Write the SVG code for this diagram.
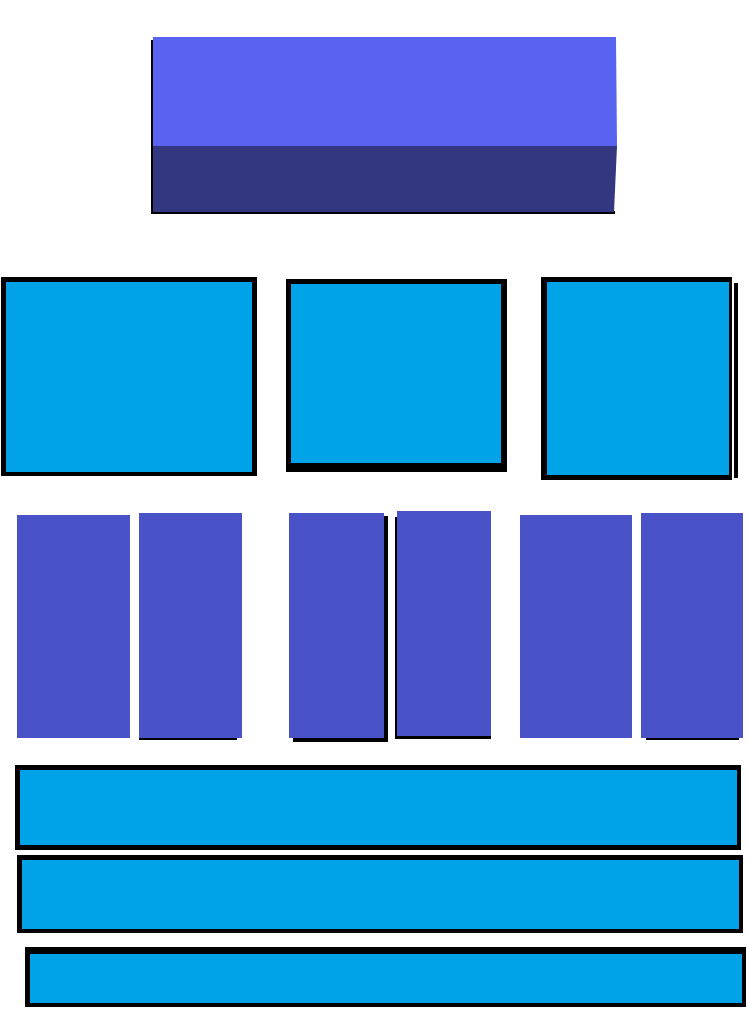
<svg xmlns="http://www.w3.org/2000/svg" width="748" height="1023" viewBox="0 0 748 1023">
  <style>
    .blk { fill: #000000; }
    .cyan { fill: #00A2E8; }
    .col { fill: #4A52C8; }
    .top { fill: #5963F2; }
    .front { fill: #33377F; }
  </style>
  <rect width="748" height="1023" fill="#FFFFFF"/>

  <g id="top-block">
    <rect class="blk" x="151" y="40" width="3" height="174"/>
    <rect class="blk" x="151" y="211" width="464" height="3"/>
    <polygon class="top" points="153,37 616,37 617,146 153,146"/>
    <polygon class="front" points="153,146 617,146 614,212 153,212"/>
  </g>

  <g id="box-left">
    <rect class="blk" x="1" y="277" width="256" height="199"/>
    <rect class="cyan" x="6" y="282" width="246" height="190"/>
  </g>
  <g id="box-middle">
    <rect class="blk" x="286" y="279" width="221" height="193"/>
    <rect class="cyan" x="291" y="284" width="210" height="179"/>
  </g>
  <g id="box-right">
    <rect class="blk" x="541" y="277" width="191" height="203"/>
    <rect class="blk" x="734" y="283" width="4" height="195"/>
    <rect class="cyan" x="547" y="282" width="182" height="193"/>
  </g>

  <g id="col-1">
    <rect class="col" x="17" y="515" width="113" height="223"/>
  </g>
  <g id="col-2">
    <rect class="blk" x="139" y="736" width="98" height="4"/>
    <rect class="col" x="139" y="513" width="103" height="225"/>
  </g>
  <g id="col-3">
    <rect class="blk" x="293" y="516" width="95" height="226"/>
    <rect class="col" x="289" y="513" width="95" height="225"/>
  </g>
  <g id="col-4">
    <rect class="blk" x="395" y="517" width="96" height="222"/>
    <rect class="col" x="397" y="511" width="94" height="225"/>
  </g>
  <g id="col-5">
    <rect class="col" x="520" y="515" width="112" height="223"/>
  </g>
  <g id="col-6">
    <rect class="blk" x="646" y="736" width="93" height="4"/>
    <rect class="col" x="641" y="513" width="102" height="225"/>
  </g>

  <g id="bar-1">
    <rect class="blk" x="15" y="765" width="726" height="85"/>
    <rect class="cyan" x="20" y="770" width="717" height="75"/>
  </g>
  <g id="bar-2">
    <rect class="blk" x="17" y="855" width="726" height="78"/>
    <rect class="cyan" x="22" y="860" width="717" height="69"/>
  </g>
  <g id="bar-3">
    <rect class="blk" x="25" y="947" width="721" height="60"/>
    <rect class="cyan" x="30" y="954" width="712" height="49"/>
  </g>

  <g id="connectors"/>
</svg>
